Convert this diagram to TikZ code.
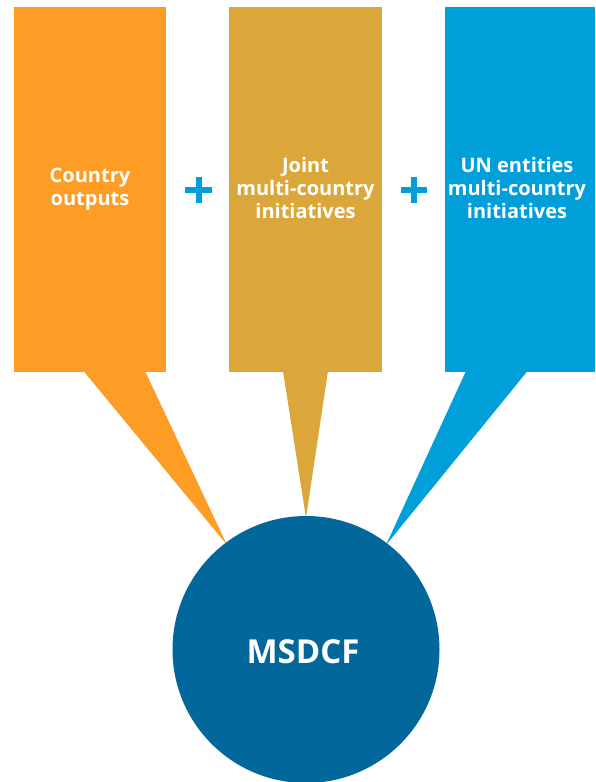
\documentclass[tikz,border=0pt]{standalone}
\usepackage{fontspec}
\setmainfont{Open Sans}
\definecolor{cOrange}{HTML}{FE9D26}
\definecolor{cGold}{HTML}{DCA73A}
\definecolor{cBlue}{HTML}{009FDA}
\definecolor{cDark}{HTML}{02679B}
\begin{document}
\begin{tikzpicture}[x=1pt,y=-1pt,
  lbl/.style={text=white, font=\bfseries\fontsize{20}{23}\selectfont, align=center},
  hub/.style={circle, fill=cDark, minimum size=267pt, inner sep=0pt, text=white, font=\bfseries\fontsize{33}{38}\selectfont}]
\useasboundingbox (0,0) rectangle (595,782);
% panels
\fill[cOrange] (14,7) rectangle (166,372);
\fill[cGold] (229,7) rectangle (382,372);
\fill[cBlue] (445,7) rectangle (595,372);
% pointers
\coordinate (t1a) at (83.5,371); \coordinate (t1b) at (145,371);
\coordinate (t2a) at (283,371); \coordinate (t2b) at (328,371);
\coordinate (t3a) at (466,371); \coordinate (t3b) at (527.5,371);
\coordinate (p1) at (227,545);
\coordinate (p2) at (306,518);
\coordinate (p3) at (386,545);
\fill[cOrange] (t1a) -- (t1b) -- (p1) -- cycle;
\fill[cGold] (t2a) -- (t2b) -- (p2) -- cycle;
\fill[cBlue] (t3a) -- (t3b) -- (p3) -- cycle;
% hub
\node[hub] (hub) at (306,649.5) {};
\node[text=white, font=\bfseries\fontsize{33}{38}\selectfont, inner sep=0pt] (hubtext) at (303,652) {MSDCF};
% labels
\node[lbl] (a) at (90,189) {Country\\outputs};
\node[lbl] (b) at (305.5,188) {Joint\\multi-country\\initiatives};
\node[lbl] (c) at (517,188) {UN entities\\multi-country\\initiatives};
% plus signs
\fill[cBlue] (185,187) rectangle (212,193);
\fill[cBlue] (195.5,177) rectangle (201.5,203);
\fill[cBlue] (401,187) rectangle (427,193);
\fill[cBlue] (411,177) rectangle (417,203);
\end{tikzpicture}
\end{document}
